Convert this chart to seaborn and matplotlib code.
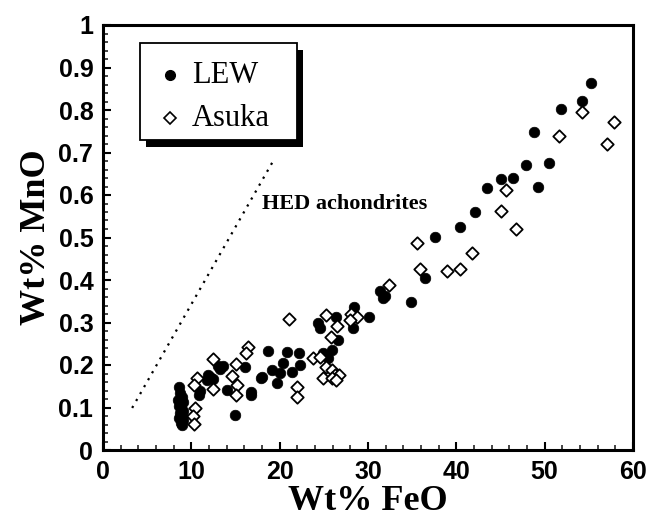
import matplotlib
matplotlib.use("Agg")
import matplotlib.pyplot as plt
import seaborn as sns
import pandas as pd
from matplotlib.patches import Rectangle
from matplotlib.lines import Line2D
from matplotlib.ticker import MultipleLocator

lew_feo = [8.6, 8.7, 8.9, 8.5, 9.0, 8.6, 8.8, 9.1, 8.7, 8.9, 8.6, 9.0, 8.8, 8.9,
           10.9, 11.0, 11.8, 12.1, 11.9, 12.4, 13.0, 13.6, 13.3, 14.0, 14.9, 16.1,
           16.8, 16.8, 17.9, 18.7, 19.1, 19.7, 18.0, 20.8, 22.2, 22.3, 20.4, 20.0,
           21.4, 24.3, 24.6, 26.6, 25.9, 25.5, 24.9, 26.4, 28.4, 30.1, 28.3, 31.4,
           31.9, 31.7, 34.9, 36.5, 37.6, 40.4, 42.1, 43.5, 45.1, 46.4, 47.9, 49.3,
           50.5, 48.8, 51.9, 54.2, 55.3]
lew_mno = [0.148, 0.135, 0.125, 0.118, 0.112, 0.104, 0.098, 0.092, 0.087, 0.080, 0.075, 0.070, 0.064, 0.058,
           0.129, 0.140, 0.165, 0.172, 0.176, 0.168, 0.198, 0.198, 0.190, 0.141, 0.082, 0.195,
           0.136, 0.129, 0.169, 0.233, 0.188, 0.158, 0.172, 0.231, 0.228, 0.200, 0.205, 0.181,
           0.184, 0.299, 0.287, 0.259, 0.235, 0.216, 0.228, 0.313, 0.337, 0.313, 0.287, 0.373,
           0.363, 0.358, 0.348, 0.404, 0.501, 0.525, 0.560, 0.616, 0.638, 0.640, 0.671, 0.619,
           0.675, 0.748, 0.802, 0.821, 0.864]

asuka_feo = [57.8, 57.1, 54.2, 51.6, 45.6, 45.1, 46.7, 35.6, 41.8, 40.4, 38.9, 35.9, 32.4,
             21.0, 25.3, 26.5, 28.1, 28.8, 28.0, 25.8, 23.8, 24.6, 25.3, 24.9, 25.9, 26.3,
             26.7, 25.9, 26.4, 22.0, 22.0, 16.4, 16.2, 12.5, 15.1, 14.6, 15.2, 15.1, 12.5,
             10.6, 10.3, 10.4, 10.2, 10.3]
asuka_mno = [0.772, 0.720, 0.795, 0.739, 0.612, 0.562, 0.520, 0.487, 0.463, 0.426, 0.422, 0.426, 0.388,
             0.308, 0.318, 0.292, 0.320, 0.313, 0.306, 0.266, 0.216, 0.219, 0.195, 0.169, 0.188, 0.176,
             0.176, 0.169, 0.165, 0.148, 0.125, 0.243, 0.228, 0.214, 0.202, 0.174, 0.153, 0.129, 0.143,
             0.169, 0.153, 0.099, 0.080, 0.061]

hed_feo = [3.3, 19.4]
hed_mno = [0.099, 0.685]

x_ticks = [0, 10, 20, 30, 40, 50, 60]
y_ticks = [0, 0.1, 0.2, 0.3, 0.4, 0.5, 0.6, 0.7, 0.8, 0.9, 1]
y_tick_labels = ["0", "0.1", "0.2", "0.3", "0.4", "0.5", "0.6", "0.7", "0.8", "0.9", "1"]
series_names = ["LEW", "Asuka"]

sns.set_theme(style="white")
plt.rcParams['font.family'] = ['Liberation Sans', 'DejaVu Sans']

fig = plt.figure(figsize=(6.52, 5.23), dpi=100)
ax = fig.add_axes([103/652, 73/523, 530/652, 425/523])

lew = pd.DataFrame({"FeO": lew_feo, "MnO": lew_mno})
asu = pd.DataFrame({"FeO": asuka_feo, "MnO": asuka_mno})

sns.scatterplot(data=lew, x="FeO", y="MnO", ax=ax, color="black", marker="o",
                s=58, edgecolor="black", linewidth=0.5, zorder=3, legend=False)
sns.scatterplot(data=asu, x="FeO", y="MnO", ax=ax, color="white", marker="D",
                s=40, edgecolor="black", linewidth=1.3, zorder=4, legend=False)

ax.plot(hed_feo, hed_mno, color="black", linestyle=(0, (1, 2.6)), linewidth=1.6, zorder=2)
ax.text(18.0, 0.567, "HED achondrites", fontsize=16, fontweight="bold",
        family=['Liberation Serif'], color="black")

ax.set_xlim(0, 60)
ax.set_ylim(0, 1)
ax.set_xticks(x_ticks)
ax.set_yticks(y_ticks)
ax.set_yticklabels(y_tick_labels)
ax.xaxis.set_minor_locator(MultipleLocator(2))
ax.yaxis.set_minor_locator(MultipleLocator(0.02))
ax.tick_params(axis="both", which="major", direction="in", length=6, width=1.5,
               labelsize=18, colors="black", pad=7, bottom=True, left=True)
ax.tick_params(axis="both", which="minor", direction="in", length=3.5, width=1.2,
               bottom=True, left=True)
for lab in ax.get_xticklabels() + ax.get_yticklabels():
    lab.set_fontweight("bold")
for sp in ax.spines.values():
    sp.set_visible(True)
    sp.set_color("black")
    sp.set_linewidth(2.2)

ax.set_xlabel("Wt% FeO", fontsize=26, fontweight="bold", family=['Liberation Serif'],
              color="black", labelpad=1)
ax.set_ylabel("Wt% MnO", fontsize=26, fontweight="bold", family=['Liberation Serif'],
              color="black", labelpad=4)

# legend box with hard black shadow
x0, y0, x1, y1 = 0.070, 0.729, 0.366, 0.958
ax.add_patch(Rectangle((x0 + 0.011, y0 - 0.016), x1 - x0, y1 - y0, transform=ax.transAxes,
                       facecolor="black", edgecolor="none", zorder=8))
ax.add_patch(Rectangle((x0, y0), x1 - x0, y1 - y0, transform=ax.transAxes,
                       facecolor="white", edgecolor="black", linewidth=1.3, zorder=9))
row_y = [0.882, 0.781]
ax.add_line(Line2D([0.126], [row_y[0]], transform=ax.transAxes, marker="o", color="black",
                   linestyle="none", markersize=7, zorder=10))
ax.add_line(Line2D([0.126], [row_y[1]], transform=ax.transAxes, marker="D", markerfacecolor="white",
                   markeredgecolor="black", markeredgewidth=1.2, linestyle="none",
                   markersize=6, zorder=10))
for name, yy in zip(series_names, row_y):
    ax.text(0.168, yy, name, transform=ax.transAxes, fontsize=22, family=['Liberation Serif'],
            va="center", ha="left", color="black", zorder=10)

fig.savefig("out.png", dpi=100, facecolor="white")
